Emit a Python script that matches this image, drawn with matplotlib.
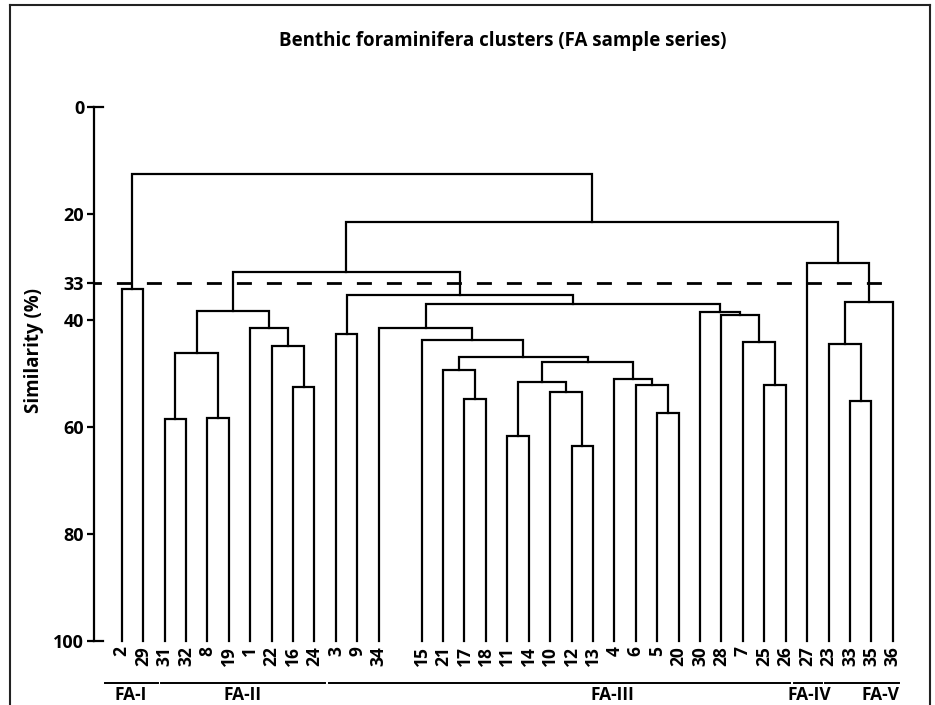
import numpy as np
import matplotlib.pyplot as plt
from matplotlib.lines import Line2D

plt.rcParams['font.family'] = ['Open Sans', 'DejaVu Sans']
plt.rcParams['font.weight'] = 'bold'

# leaf order along the x axis (an empty slot follows sample 34)
leaves = ['2', '29', '31', '32', '8', '19', '1', '22', '16', '24', '3', '9', '34',
          '15', '21', '17', '18', '11', '14', '10', '12', '13', '4', '6', '5', '20',
          '30', '28', '7', '25', '26', '27', '23', '33', '35', '36']

# merges: (node, left child, right child, similarity level %)
merges = [
    ('a', '31', '32', 58.5), ('b', '8', '19', 58.3), ('c', 'a', 'b', 46.1),
    ('d', '16', '24', 52.4), ('e', '22', 'd', 44.8), ('f', '1', 'e', 41.5),
    ('fa2', 'c', 'f', 38.3),
    ('fa1', '2', '29', 34.2),
    ('i', '3', '9', 42.5),
    ('j', '17', '18', 54.7), ('k', '21', 'j', 49.2),
    ('l', '11', '14', 61.7), ('m', '12', '13', 63.5), ('n', '10', 'm', 53.4),
    ('o', 'l', 'n', 51.5),
    ('p', '5', '20', 57.3), ('q', '6', 'p', 52.0), ('r', '4', 'q', 50.9),
    ('s', 'o', 'r', 47.7), ('t', 'k', 's', 46.9), ('u', '15', 't', 43.6),
    ('v', '34', 'u', 41.5),
    ('y', '25', '26', 52.1), ('x', '7', 'y', 44.0), ('w', '28', 'x', 39.0),
    ('z', '30', 'w', 38.4),
    ('aa', 'v', 'z', 36.9), ('fa3', 'i', 'aa', 35.2),
    ('g23', 'fa2', 'fa3', 30.9),
    ('h', '33', '35', 55.1), ('dd', '23', 'h', 44.5), ('ee', 'dd', '36', 36.5),
    ('fa45', '27', 'ee', 29.2),
    ('gg', 'g23', 'fa45', 21.6),
    ('root', 'fa1', 'gg', 12.6),
]

cutoff = 33
yticks = [0, 20, 33, 40, 60, 80, 100]

group_names = ['FA-I', 'FA-II', 'FA-III', 'FA-IV', 'FA-V']
group_spans = [(-0.78, 1.68), (1.82, 9.48), (9.68, 31.2), (31.39, 32.68), (32.84, 36.3)]
group_label_x = [0.42, 5.64, 22.9, 32.09, 35.4]

idx = np.arange(len(leaves))
xpos = idx + (idx > leaves.index('34'))

fig = plt.figure(figsize=(9.35, 7.05), dpi=100)
ax = fig.add_axes([94 / 935, 1 - 641 / 705, 816 / 935, 534.3 / 705])
ax.set_xlim(-1.293, 36.8)
ax.set_ylim(100, 0)

lw = 1.6
node_x = {name: x for name, x in zip(leaves, xpos)}
node_h = {name: 100 for name in leaves}
for name, left, right, h in merges:
    xl, xr = node_x[left], node_x[right]
    ax.plot([xl, xl, xr, xr], [node_h[left], h, h, node_h[right]],
            color='black', lw=lw, solid_joinstyle='miter', clip_on=False)
    node_x[name] = (xl + xr) / 2
    node_h[name] = h

# similarity cut-off
ax.plot([-1.293, 36.1], [cutoff, cutoff], color='black', lw=2.0,
        linestyle=(2.74, (5.4, 5.4)), clip_on=False)

# axis styling
for side in ['top', 'right', 'bottom']:
    ax.spines[side].set_visible(False)
ax.spines['left'].set_linewidth(lw)
ax.set_xticks([])
ax.set_yticks(yticks)
ax.set_yticklabels([str(t) for t in yticks])
ax.tick_params(axis='y', direction='out', length=5, width=lw, pad=2, labelsize=13)
for v in [0, 100]:
    ax.plot([0, 0.011], [v, v], color='black', lw=lw,
            transform=ax.get_yaxis_transform(), clip_on=False)

# leaf labels
for name, x in zip(leaves, xpos):
    ax.text(x, 101.0, name, rotation=90, ha='center', va='top', fontsize=12.5,
            fontweight='bold')

# cluster groups under the leaves
for gname, (x0, x1), lx in zip(group_names, group_spans, group_label_x):
    ax.plot([x0, x1], [107.8, 107.8], color='black', lw=1.4, clip_on=False)
    ax.text(lx, 111.0, gname, ha='center', va='baseline', fontsize=12.5,
            fontweight='bold')

fig.text(503 / 935, 1 - 46 / 705, 'Benthic foraminifera clusters (FA sample series)',
         ha='center', va='baseline', fontsize=13.5, fontweight='bold')
fig.text(34 / 935, 1 - 350 / 705, 'Similarity (%)', rotation=90,
         ha='center', va='center', fontsize=13.5, fontweight='bold')

# outer frame
for xs, ys in [([9.5, 9.5], [705, 5]), ([9.5, 930], [5, 5]), ([930, 930], [5, 705])]:
    fig.add_artist(Line2D([x / 935 for x in xs], [1 - y / 705 for y in ys],
                          color='#222222', lw=1.5))

fig.savefig('out.png', dpi=100)
